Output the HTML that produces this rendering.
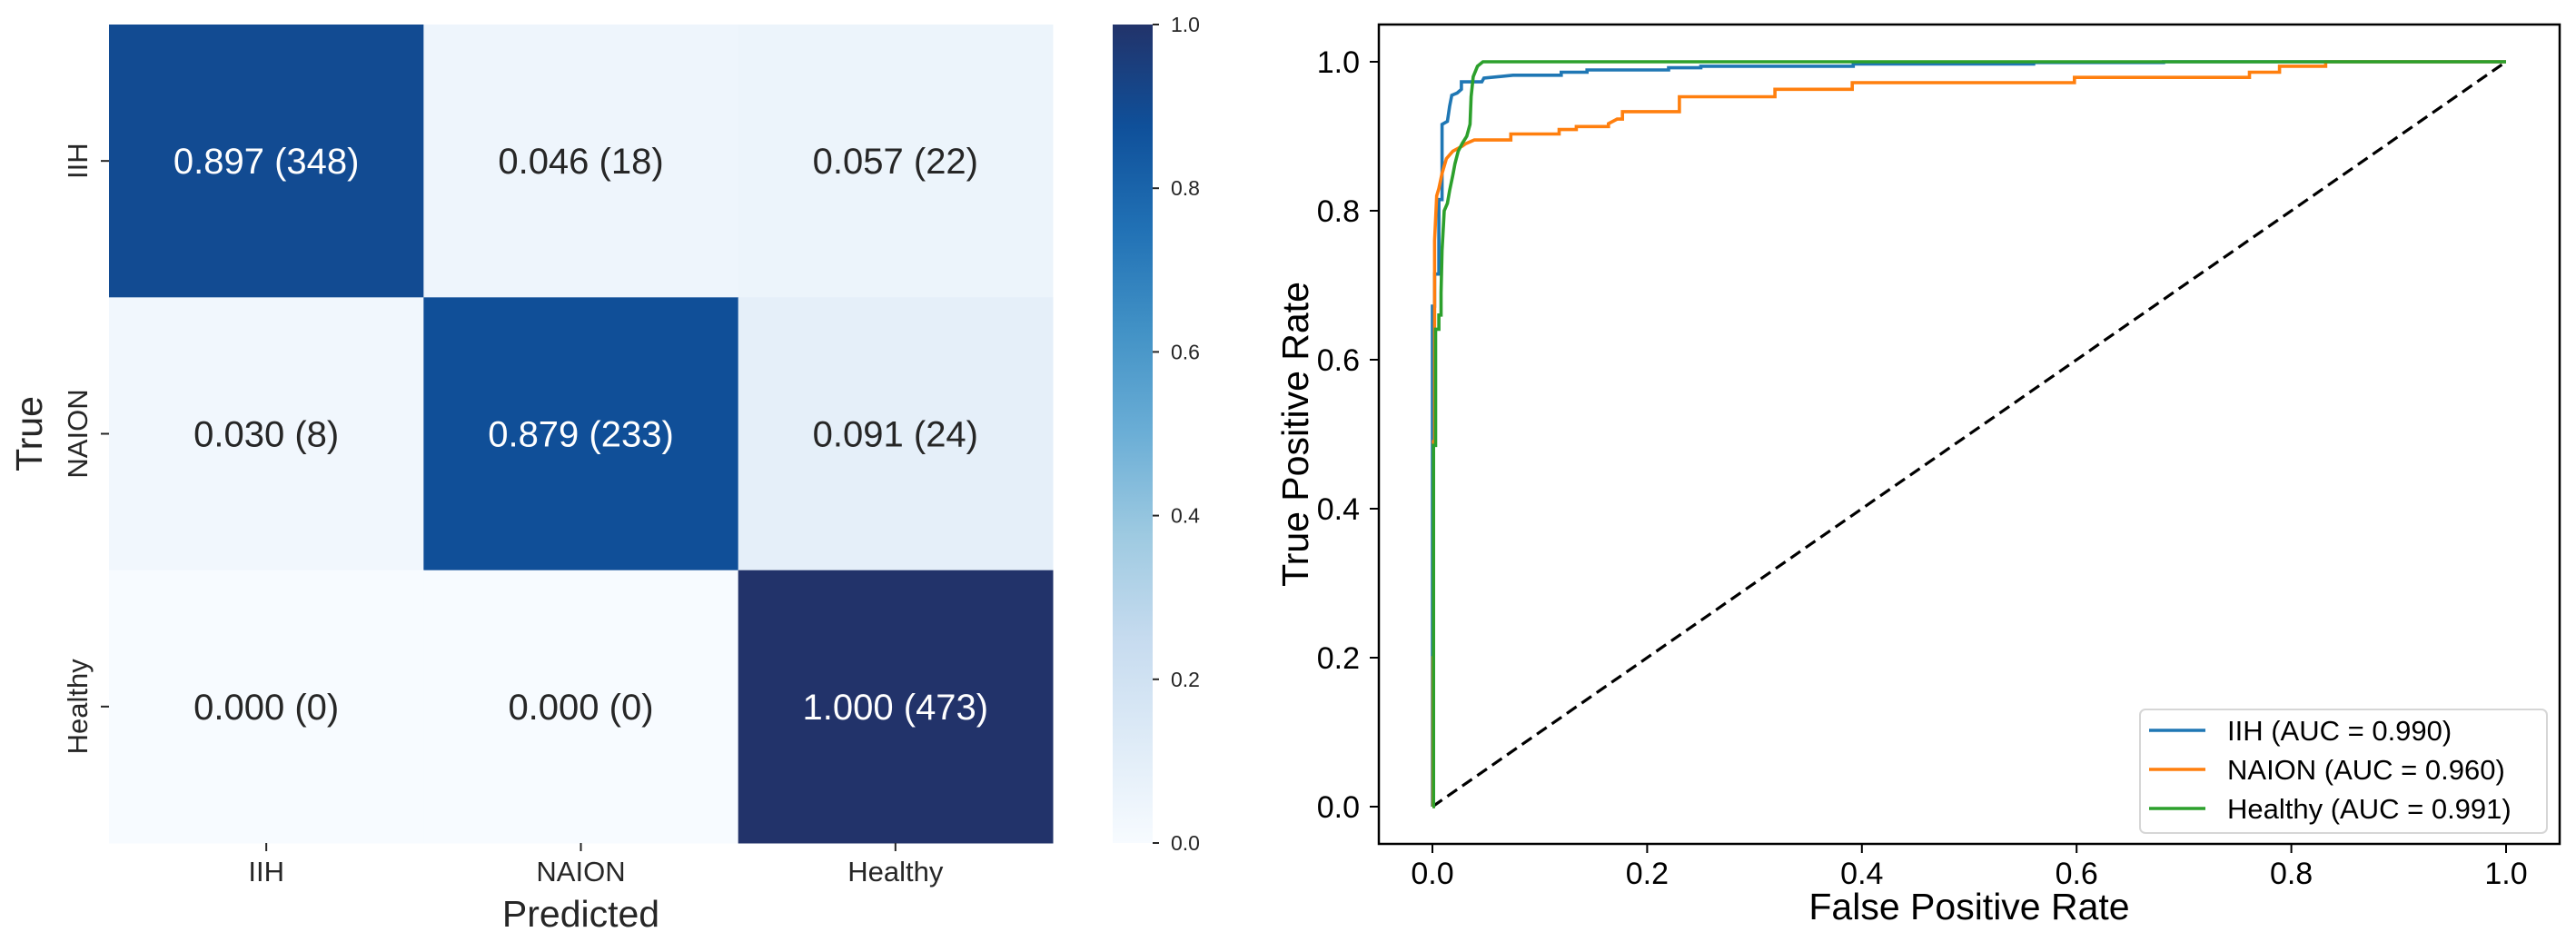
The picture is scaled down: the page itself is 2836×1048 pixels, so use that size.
<!DOCTYPE html>
<html><head><meta charset="utf-8"><style>
html,body{margin:0;padding:0;background:#fff;}
svg{display:block;font-family:"Liberation Sans","DejaVu Sans",sans-serif;}
</style></head><body>
<svg id="fig" width="2836" height="1048" viewBox="0 0 2836 1048" xmlns="http://www.w3.org/2000/svg">
<defs>
<linearGradient id="cbgrad" x1="0" y1="1" x2="0" y2="0">
<stop offset="0" stop-color="#f7fbff"/><stop offset="0.125" stop-color="#deebf7"/><stop offset="0.25" stop-color="#c6dbef"/><stop offset="0.375" stop-color="#9ecae1"/><stop offset="0.5" stop-color="#6baed6"/><stop offset="0.625" stop-color="#4292c6"/><stop offset="0.75" stop-color="#2171b5"/><stop offset="0.875" stop-color="#0f509a"/><stop offset="1" stop-color="#22336a"/>
</linearGradient>
</defs>
<g id="hm"></g>
<g id="cb"></g>
<g id="roc"></g>
</svg>
<script>
// ---- Confusion matrix data ----
const classes = ["IIH", "NAION", "Healthy"];
const cmRates = [[0.897, 0.046, 0.057],[0.030, 0.879, 0.091],[0.000, 0.000, 1.000]];
const cmCounts = [[348, 18, 22],[8, 233, 24],[0, 0, 473]];
const cbTicks = [0, 0.2, 0.4, 0.6, 0.8, 1.0];
// ---- ROC data ----
const rocNames = ["IIH (AUC = 0.990)", "NAION (AUC = 0.960)", "Healthy (AUC = 0.991)"];
const rocIIH = [[0,0],[0,0.672],[0.002,0.672],[0.002,0.715],[0.006,0.715],[0.006,0.815],[0.009,0.815],[0.009,0.916],[0.014,0.92],[0.016,0.94],[0.018,0.955],[0.023,0.958],[0.027,0.963],[0.027,0.973],[0.046,0.973],[0.048,0.978],[0.075,0.982],[0.12,0.982],[0.12,0.986],[0.144,0.986],[0.144,0.989],[0.22,0.989],[0.22,0.992],[0.25,0.992],[0.25,0.994],[0.392,0.994],[0.392,0.997],[0.56,0.997],[0.56,0.999],[0.681,0.999],[0.681,1],[1,1]];
const rocNAION = [[0,0],[0.0005,0],[0.0005,0.2],[0.001,0.2],[0.001,0.49],[0.002,0.49],[0.002,0.76],[0.004,0.82],[0.006,0.83],[0.009,0.85],[0.013,0.87],[0.019,0.88],[0.028,0.887],[0.031,0.89],[0.039,0.895],[0.073,0.895],[0.073,0.903],[0.118,0.903],[0.118,0.909],[0.134,0.909],[0.134,0.913],[0.164,0.913],[0.164,0.917],[0.172,0.923],[0.177,0.923],[0.177,0.933],[0.23,0.933],[0.23,0.953],[0.319,0.953],[0.319,0.963],[0.391,0.963],[0.391,0.972],[0.598,0.972],[0.598,0.979],[0.761,0.979],[0.761,0.986],[0.789,0.986],[0.789,0.994],[0.832,0.994],[0.832,1],[1,1]];
const rocHealthy = [[0,0],[0.001,0],[0.001,0.485],[0.003,0.485],[0.003,0.641],[0.006,0.641],[0.006,0.66],[0.008,0.66],[0.008,0.69],[0.009,0.747],[0.011,0.80],[0.014,0.81],[0.016,0.827],[0.019,0.848],[0.021,0.863],[0.024,0.88],[0.028,0.891],[0.032,0.9],[0.035,0.916],[0.036,0.953],[0.038,0.98],[0.042,0.994],[0.047,1],[1,1]];
const rocTicks = [0, 0.2, 0.4, 0.6, 0.8, 1.0];
const rocColors = ["#1f77b4", "#ff7f0e", "#2ca02c"];

const NS = "http://www.w3.org/2000/svg";
function mk(tag, attrs, parent, text){
  const e = document.createElementNS(NS, tag);
  for (const k in attrs) e.setAttribute(k, attrs[k]);
  if (text !== undefined) e.textContent = text;
  parent.appendChild(e); return e;
}
const stops = [[0,[247,251,255]],[0.125,[222,235,247]],[0.25,[198,219,239]],[0.375,[158,202,225]],[0.5,[107,174,214]],[0.625,[66,146,198]],[0.75,[33,113,181]],[0.875,[15,80,154]],[1,[34,51,106]]];
function blues(v){
  for (let i=1;i<stops.length;i++){
    if (v<=stops[i][0]){
      const a=stops[i-1], b=stops[i], t=(v-a[0])/(b[0]-a[0]);
      const c=a[1].map((x,j)=>Math.round(x+(b[1][j]-x)*t));
      return `rgb(${c[0]},${c[1]},${c[2]})`;
    }
  }
  return "rgb(34,51,106)";
}

// ---- Heatmap ----
const hm = document.getElementById("hm");
const HX0=120, HX1=1159, HY0=27, HY1=928;
const cw=(HX1-HX0)/classes.length, ch=(HY1-HY0)/classes.length;
for (let r=0;r<classes.length;r++){
  for (let c=0;c<classes.length;c++){
    const v=cmRates[r][c];
    const cell=mk("rect",{x:HX0+c*cw,y:HY0+r*ch,width:cw+0.5,height:ch+0.5,fill:blues(v)},hm);
    
    
    const t=mk("text",{x:HX0+(c+0.5)*cw,y:HY0+(r+0.5)*ch+14,"text-anchor":"middle","font-size":40,fill:v>0.5?"#ffffff":"#262626"},hm,v.toFixed(3)+" ("+cmCounts[r][c]+")");
    
    
  }
}
for (let i=0;i<classes.length;i++){
  const x=HX0+(i+0.5)*cw;
  mk("line",{x1:x,y1:HY1,x2:x,y2:HY1+9,stroke:"#262626","stroke-width":2},hm);
  const xl=mk("text",{x:x,y:HY1+42,"text-anchor":"middle","font-size":31,fill:"#262626"},hm,classes[i]);
  
  
  const y=HY0+(i+0.5)*ch;
  mk("line",{x1:HX0-9,y1:y,x2:HX0,y2:y,stroke:"#262626","stroke-width":2},hm);
  const yl=mk("text",{x:0,y:0,transform:`translate(96,${y}) rotate(-90)`,"text-anchor":"middle","font-size":31,fill:"#262626"},hm,classes[i]);
  
  
}
const px=mk("text",{x:(HX0+HX1)/2,y:1020,"text-anchor":"middle","font-size":41,fill:"#262626"},hm,"Predicted");


const py=mk("text",{x:0,y:0,transform:`translate(46,${(HY0+HY1)/2}) rotate(-90)`,"text-anchor":"middle","font-size":41,fill:"#262626"},hm,"True");



// ---- Colorbar ----
const cb=document.getElementById("cb");
const CX0=1225, CX1=1269;
mk("rect",{x:CX0,y:HY0,width:CX1-CX0,height:HY1-HY0,fill:"url(#cbgrad)"},cb);
for (const t of cbTicks){
  const y=HY1-t*(HY1-HY0);
  mk("line",{x1:CX1,y1:y,x2:CX1+7,y2:y,stroke:"#262626","stroke-width":2},cb);
  const l=mk("text",{x:CX1+20,y:y+8,"font-size":23,fill:"#262626"},cb,t.toFixed(1));
  
  
}

// ---- ROC ----
const roc=document.getElementById("roc");
const AX0=1518, AX1=2818, AY0=27, AY1=929;
const fx=v=>1577+v*(2759-1577);
const fy=v=>888-v*(888-68);
for (const t of rocTicks){
  mk("line",{x1:fx(t),y1:AY1,x2:fx(t),y2:AY1+10,stroke:"#000","stroke-width":2},roc);
  const xl=mk("text",{x:fx(t),y:973,"text-anchor":"middle","font-size":34,fill:"#000"},roc,t.toFixed(1));
  
  
  mk("line",{x1:AX0-10,y1:fy(t),x2:AX0,y2:fy(t),stroke:"#000","stroke-width":2},roc);
  const yl=mk("text",{x:1497,y:fy(t)+12,"text-anchor":"end","font-size":34,fill:"#000"},roc,t.toFixed(1));
  
  
}
const diag=mk("line",{x1:fx(0),y1:fy(0),x2:fx(1),y2:fy(1),stroke:"#000","stroke-width":3.2,"stroke-dasharray":"13,7"},roc);


const series=[rocIIH,rocNAION,rocHealthy];
const seriesNames=['roc-curve-iih','roc-curve-naion','roc-curve-healthy'];
for (let s=0;s<series.length;s++){
  const pts=series[s].map(p=>fx(p[0]).toFixed(1)+","+fy(p[1]).toFixed(1)).join(" ");
  const pl=mk("polyline",{points:pts,fill:"none",stroke:rocColors[s],"stroke-width":3.6,"stroke-linejoin":"miter"},roc);
  
  
}
mk("rect",{x:AX0,y:AY0,width:AX1-AX0,height:AY1-AY0,fill:"none",stroke:"#000","stroke-width":2.5},roc);
const rx=mk("text",{x:(AX0+AX1)/2,y:1012,"text-anchor":"middle","font-size":41,fill:"#000"},roc,"False Positive Rate");


const ry=mk("text",{x:0,y:0,transform:`translate(1440,${(AY0+AY1)/2}) rotate(-90)`,"text-anchor":"middle","font-size":41,fill:"#000"},roc,"True Positive Rate");



// legend
const lg=mk("g",{},roc);


mk("rect",{x:2356,y:781,width:448,height:136,rx:6,fill:"#fff","fill-opacity":0.85,stroke:"#d6d6d6","stroke-width":2},lg);
for (let s=0;s<rocNames.length;s++){
  const y=804+s*43;
  const e=mk("g",{},lg);
  
  
  mk("line",{x1:2366,y1:y,x2:2428,y2:y,stroke:rocColors[s],"stroke-width":3.4},e);
  mk("text",{x:2452,y:y+11,"font-size":31,fill:"#000"},e,rocNames[s]);
}
</script>
</body></html>
